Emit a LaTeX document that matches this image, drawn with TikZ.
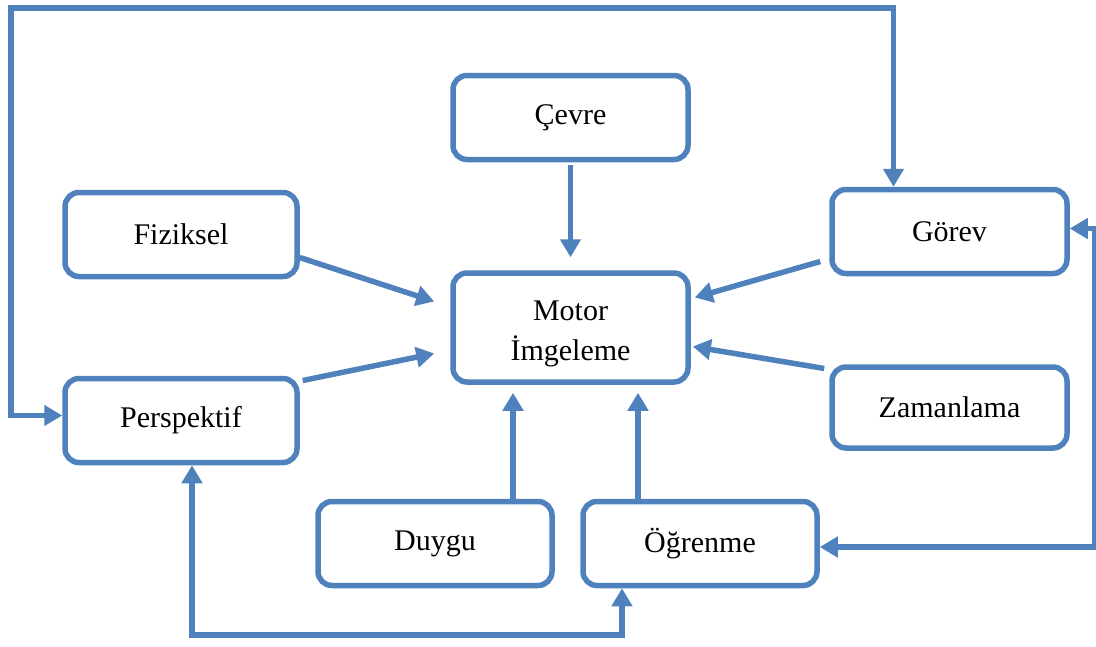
\documentclass[tikz,border=0pt]{standalone}
\usepackage{fontspec}
\setmainfont{Liberation Serif}
\usepackage{tikz}
\usetikzlibrary{arrows.meta}
\definecolor{boxblue}{HTML}{4F81BD}

\begin{document}
\begin{tikzpicture}[x=1pt, y=-1pt]
	\tikzstyle{block} = [rectangle, draw=boxblue, line width=5.5pt, rounded corners=14pt,
	minimum width=235pt, minimum height=84pt, align=center, font=\fontsize{30}{40}\selectfont]
	\tikzstyle{line} = [draw=boxblue, line width=5.5pt, -{Triangle[length=18pt,width=20pt]}]
	\tikzstyle{loop} = [draw=boxblue, line width=5.5pt, {Triangle[length=18pt,width=20pt]}-{Triangle[length=18pt,width=20pt]}]
	\useasboundingbox (0,0) rectangle (1096,646);
	% Place nodes
	\node [block, minimum height=109pt] (motor) at (570.5,327.5) {\rule{0pt}{33pt}Motor\\İmgeleme};
	\node [block] (cevre) at (570.5,117.5) {Çevre};
	\node [block, minimum width=232pt] (fiziksel) at (181,234.5) {Fiziksel};
	\node [block, minimum width=232pt] (perspektif) at (181,420.5) {Perspektif};
	\node [block] (gorev) at (949.5,231.5) {Görev};
	\node [block, minimum height=81pt] (zamanlama) at (949.5,407.5) {Zamanlama};
	\node [block, minimum width=234pt] (duygu) at (435,543.5) {Duygu};
	\node [block, minimum width=234pt] (ogrenme) at (700,543.5) {Öğrenme};
	\coordinate (tl) at (11,8);
	\coordinate (bl) at (192,635);
	\coordinate (d1) at ([xshift=78pt]duygu.north);
	\coordinate (o1) at ([xshift=-62pt]ogrenme.north);
	% Draw edges
	\path [line, shorten <=3pt, shorten >=13pt] (cevre) -- (motor);
	\path [line] ([yshift=-23pt]fiziksel.east) -- ([xshift=-16pt,yshift=26pt]motor.west);
	\path [line] ([xshift=3pt,yshift=40pt]perspektif.east) -- ([xshift=-16pt,yshift=-26pt]motor.west);
	\path [line] ([xshift=-9pt,yshift=-30pt]gorev.west) -- ([xshift=4pt,yshift=30pt]motor.east);
	\path [line] ([xshift=-5pt,yshift=39pt]zamanlama.west) -- ([xshift=2pt,yshift=-19pt]motor.east);
	\path [line, shorten >=8pt] (d1) -- (d1 |- motor.south);
	\path [line, shorten >=8pt] (o1) -- (o1 |- motor.south);
	\path [loop] ([xshift=-56pt]gorev.north) |- (tl) |- ([yshift=5pt]perspektif.west);
	\path [loop] ([yshift=3pt]gorev.east) -- ++(25,0) |- ([yshift=-3.5pt]ogrenme.east);
	\path [loop] ([xshift=11pt]perspektif.south) -- (bl) -| ([xshift=-78pt]ogrenme.south);
\end{tikzpicture}
\end{document}
